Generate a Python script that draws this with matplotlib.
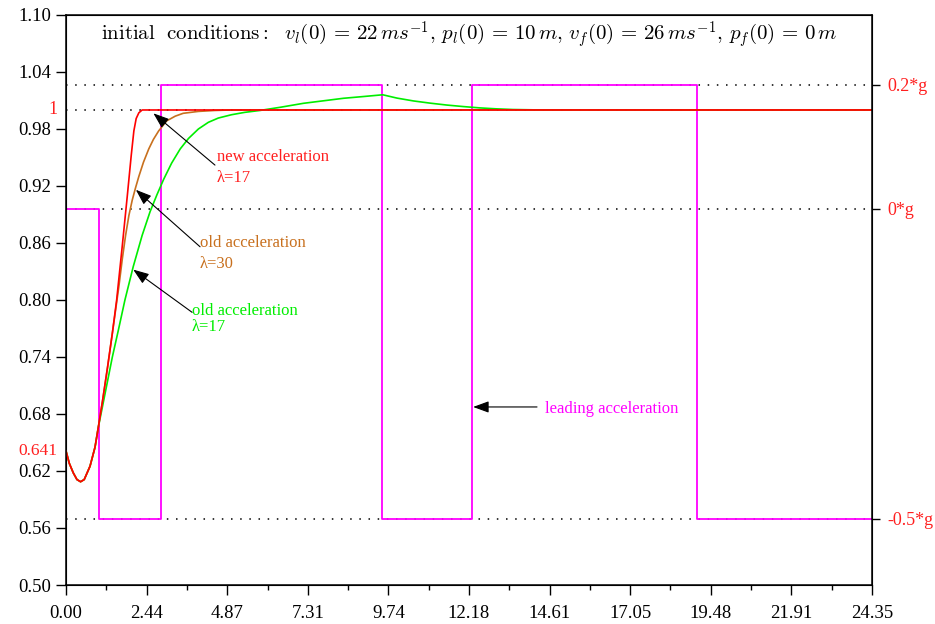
import matplotlib
matplotlib.use("Agg")
import matplotlib.pyplot as plt

plt.rcParams['font.family'] = ['Liberation Serif', 'DejaVu Serif']
plt.rcParams['mathtext.fontset'] = 'cm'

# time axis (s)
xtick_pos = [0.0, 2.435, 4.87, 7.305, 9.74, 12.175, 14.61, 17.045, 19.48, 21.915, 24.35]
xtick_lbl = ['0.00', '2.44', '4.87', '7.31', '9.74', '12.18', '14.61', '17.05', '19.48', '21.91', '24.35']
ytick_pos = [0.50, 0.56, 0.62, 0.68, 0.74, 0.80, 0.86, 0.92, 0.98, 1.04, 1.10]

# new acceleration, lambda=17 (red)
t_new = [0, 0.1, 0.22, 0.33, 0.44, 0.55, 0.725, 0.876, 0.976, 1.1, 1.25, 1.4, 1.53,
         1.7, 1.85, 1.97, 2.05, 2.12, 2.2, 2.3, 24.35]
v_new = [0.641, 0.628, 0.618, 0.611, 0.6087, 0.611, 0.625, 0.645, 0.666, 0.693, 0.728,
         0.765, 0.800, 0.857, 0.909, 0.952, 0.978, 0.991, 0.997, 1.0, 1.0]

# old acceleration, lambda=30 (brown)
t_old30 = [0, 0.1, 0.22, 0.33, 0.44, 0.55, 0.725, 0.876, 0.976, 1.1, 1.25, 1.4, 1.5, 1.6,
           1.7, 1.8, 1.9, 2.0, 2.1, 2.2, 2.34, 2.5, 2.64, 2.8, 3.04, 3.3, 3.54, 4.0, 4.5,
           5.0, 24.35]
v_old30 = [0.641, 0.628, 0.618, 0.611, 0.6087, 0.611, 0.625, 0.645, 0.666, 0.693, 0.728,
           0.765, 0.79, 0.815, 0.843, 0.868, 0.889, 0.905, 0.918, 0.930, 0.945, 0.959,
           0.969, 0.978, 0.9885, 0.9935, 0.9965, 0.9985, 0.9995, 1.0, 1.0]

# old acceleration, lambda=17 (green)
t_old17 = [0, 0.1, 0.22, 0.33, 0.44, 0.55, 0.725, 0.876, 0.976, 1.08, 1.2, 1.4, 1.58, 1.78,
           2.03, 2.3, 2.54, 2.75, 2.95, 3.19, 3.45, 3.7, 4.0, 4.3, 4.6, 5.0, 5.4, 5.86,
           6.5, 7.17, 8.38, 9.0, 9.57, 10.0, 10.5, 11.0, 11.5, 12.0, 12.5, 13.0, 13.5,
           14.2, 15.0, 24.35]
v_old17 = [0.641, 0.628, 0.618, 0.611, 0.6087, 0.611, 0.625, 0.645, 0.666, 0.684, 0.705,
           0.74, 0.768, 0.80, 0.835, 0.868, 0.893, 0.911, 0.927, 0.944, 0.959, 0.970,
           0.980, 0.987, 0.9915, 0.995, 0.9975, 0.9995, 1.003, 1.007, 1.0123, 1.0142,
           1.016, 1.0125, 1.0095, 1.0072, 1.0052, 1.0036, 1.0022, 1.0012, 1.0005,
           1.0001, 1.0, 1.0]

# leading acceleration (in g), piecewise constant
lead_t = [0, 1.0, 2.88, 9.56, 12.27, 19.06, 24.35]
lead_a = [0, -0.5, 0.2, -0.5, 0.2, -0.5, -0.5]
g_ticks = [0.2, 0, -0.5]
g_lbls = ['0.2*g', '0*g', '-0.5*g']

fig = plt.figure(figsize=(9.35, 6.24), dpi=100)
ax = fig.add_axes([0.0706, 0.0625, 0.862, 0.9135])
ax2 = ax.twinx()
ax.set_zorder(ax2.get_zorder() + 1)
ax.patch.set_visible(False)

# right axis: leading acceleration
ax2.set_ylim(-0.6065, 0.3129)
for gv in g_ticks:
    ax2.axhline(gv, color='black', ls=(0, (1, 5)), lw=1.1)
ax2.step(lead_t, lead_a, where='post', color='#ff00ff', lw=1.3)
ax2.set_yticks(g_ticks)
ax2.set_yticklabels(g_lbls, color='#ff2020', fontsize=13)
ax2.tick_params(axis='y', length=6, width=1, pad=5)

# left axis: curves
ax.axhline(1.0, color='black', ls=(0, (1, 5)), lw=1.1)
ax.plot(t_old17, v_old17, color='#00ee00', lw=1.2)
ax.plot(t_old30, v_old30, color='#c8701e', lw=1.2)
ax.plot(t_new, v_new, color='#ff0000', lw=1.2)

ax.set_xlim(0, 24.35)
ax.set_ylim(0.50, 1.10)
ax.set_xticks(xtick_pos)
ax.set_xticklabels(xtick_lbl, fontsize=13.5)
ax.set_xticks([(a + b) / 2 for a, b in zip(xtick_pos[:-1], xtick_pos[1:])], minor=True)
ax.set_yticks(ytick_pos)
ax.set_yticklabels(['%.2f' % v for v in ytick_pos], fontsize=13.5)
ax.tick_params(axis='both', which='major', length=7.5, width=1)
ax.tick_params(axis='x', which='major', pad=7)
ax.tick_params(axis='y', which='major', pad=3)
ax.tick_params(axis='x', which='minor', length=3.8, width=1)
for sp in ax.spines.values():
    sp.set_linewidth(1.1)

yax = ax.get_yaxis_transform()
ax.text(-0.011, 1.0, '1', transform=yax, ha='right', va='center', color='#ff2020', fontsize=13)
ax.text(-0.011, 0.641, '0.641', transform=yax, ha='right', va='center', color='#ff2020', fontsize=12.5)

ax.text(0.5, 0.966,
        r'$\mathrm{initial\ \ conditions:}\ \ v_l(0)\,=\,22\,ms^{-1},\,p_l(0)\,=\,10\,m,\,'
        r'v_f(0)\,=\,26\,ms^{-1},\,p_f(0)\,=\,0\,m$',
        transform=ax.transAxes, ha='center', va='center', fontsize=15)

arrow = dict(arrowstyle='-|>,head_length=0.6,head_width=0.22', color='black', lw=0.8,
             mutation_scale=16, shrinkA=0, shrinkB=0)
ax.annotate('', xy=(2.64, 0.9965), xytext=(4.50, 0.942), arrowprops=arrow)
ax.text(4.56, 0.959, 'new acceleration\nλ=17', color='#ff2020', fontsize=12,
        va='top', ha='left', linespacing=1.45)
ax.annotate('', xy=(2.11, 0.916), xytext=(4.05, 0.856), arrowprops=arrow)
ax.text(4.05, 0.868, 'old acceleration\nλ=30', color='#c8701e', fontsize=12,
        va='top', ha='left', linespacing=1.4)
ax.annotate('', xy=(2.03, 0.832), xytext=(3.81, 0.787), arrowprops=arrow)
ax.text(3.81, 0.797, 'old acceleration\nλ=17', color='#00ee00', fontsize=12,
        va='top', ha='left', linespacing=1.05)
ax.annotate('', xy=(12.30, 0.6874), xytext=(14.23, 0.6874), arrowprops=arrow)
ax.text(14.47, 0.685, 'leading acceleration', color='#ff00ff', fontsize=12,
        va='center', ha='left')

fig.savefig('out.png', dpi=100)
